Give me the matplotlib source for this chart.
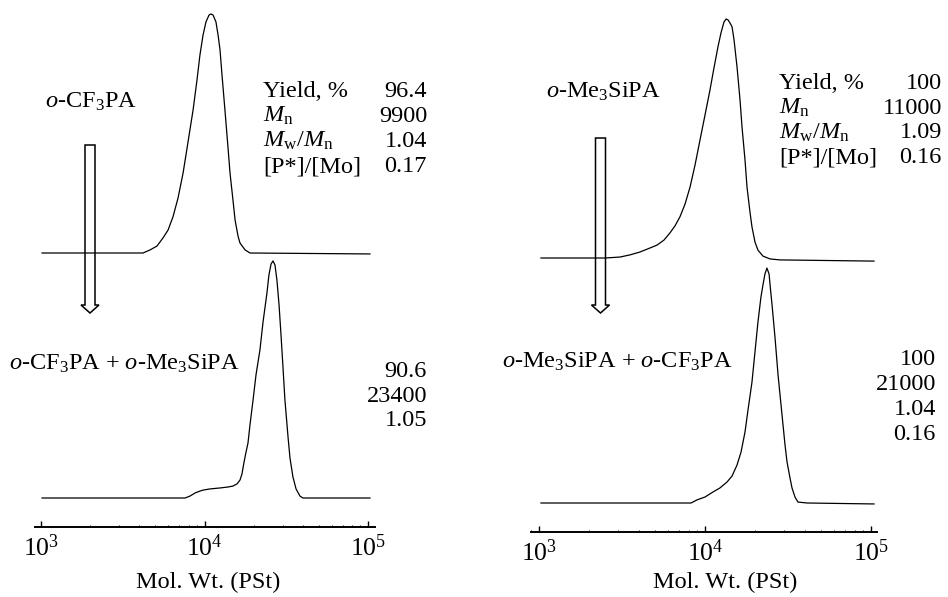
import numpy as np
import matplotlib
matplotlib.use('Agg')
import matplotlib.pyplot as plt
from matplotlib.patches import Polygon
from matplotlib.ticker import LogLocator, NullFormatter

plt.rcParams.update({
    'font.family': 'Liberation Serif',
    'mathtext.fontset': 'custom',
    'mathtext.rm': 'Liberation Serif',
    'mathtext.it': 'Liberation Serif:italic',
    'mathtext.bf': 'Liberation Serif:bold',
    'font.size': 17.5,
})

# GPC traces: log10(MW, PSt) vs normalised RI response
cf3_logm = [3.006, 3.624, 3.667, 3.709, 3.746, 3.777, 3.807, 3.838, 3.869, 3.899,
            3.930, 3.954, 3.972, 3.991, 4.009, 4.028, 4.040, 4.052, 4.070, 4.083,
            4.095, 4.107, 4.125, 4.144, 4.156, 4.174, 4.187, 4.205, 4.217, 4.248,
            4.278, 5.012]
cf3_int = [0, 0, 0.013, 0.029, 0.063, 0.096, 0.151, 0.230, 0.335, 0.464,
           0.598, 0.724, 0.828, 0.912, 0.967, 0.996, 1.0, 0.996, 0.967, 0.912,
           0.849, 0.745, 0.598, 0.439, 0.335, 0.222, 0.138, 0.071, 0.042, 0.013,
           0, -0.004]

cf3_si_logm = [3.006, 3.881, 3.911, 3.942, 3.972, 3.991, 4.034, 4.095, 4.144, 4.174,
               4.199, 4.217, 4.229, 4.242, 4.254, 4.266, 4.278, 4.297, 4.315, 4.339,
               4.358, 4.382, 4.394, 4.407, 4.419, 4.431, 4.443, 4.456, 4.468, 4.480,
               4.492, 4.511, 4.523, 4.541, 4.560, 4.584, 4.602, 5.012]
cf3_si_int = [0, 0, 0.008, 0.021, 0.029, 0.033, 0.038, 0.042, 0.046, 0.050,
              0.059, 0.075, 0.100, 0.151, 0.192, 0.230, 0.305, 0.410, 0.515, 0.619,
              0.736, 0.858, 0.933, 0.979, 0.992, 0.975, 0.912, 0.808, 0.682, 0.548,
              0.410, 0.255, 0.167, 0.088, 0.038, 0.008, 0, 0]

si_logm = [3.012, 3.398, 3.488, 3.548, 3.608, 3.669, 3.711, 3.753, 3.789, 3.819,
           3.849, 3.880, 3.910, 3.940, 3.970, 4.000, 4.030, 4.054, 4.078, 4.096,
           4.114, 4.127, 4.139, 4.151, 4.163, 4.175, 4.193, 4.211, 4.223, 4.241,
           4.253, 4.271, 4.283, 4.301, 4.319, 4.349, 4.392, 4.452, 5.018]
si_int = [0, 0, 0.004, 0.013, 0.025, 0.042, 0.054, 0.075, 0.105, 0.134,
          0.172, 0.226, 0.297, 0.389, 0.494, 0.598, 0.703, 0.795, 0.883, 0.941,
          0.987, 1.0, 0.996, 0.983, 0.967, 0.912, 0.799, 0.661, 0.548, 0.410,
          0.297, 0.192, 0.130, 0.067, 0.033, 0.008, -0.004, -0.008, -0.013]

si_cf3_logm = [3.012, 3.916, 3.952, 4.000, 4.048, 4.090, 4.133, 4.163, 4.193, 4.217,
               4.241, 4.259, 4.283, 4.301, 4.319, 4.337, 4.349, 4.361, 4.373, 4.386,
               4.392, 4.404, 4.422, 4.440, 4.464, 4.482, 4.494, 4.512, 4.524, 4.542,
               4.560, 4.614, 5.018]
si_cf3_int = [0, 0, 0.013, 0.025, 0.046, 0.063, 0.088, 0.113, 0.159, 0.213,
              0.297, 0.389, 0.506, 0.632, 0.757, 0.862, 0.912, 0.958, 0.983, 0.958,
              0.912, 0.828, 0.690, 0.536, 0.368, 0.243, 0.172, 0.105, 0.063, 0.025,
              0.004, 0, -0.004]

stat_labels = ['Yield, %', '$M_\\mathrm{n}$', '$M_\\mathrm{w}/M_\\mathrm{n}$', '[P*]/[Mo]']
left_top_vals = ['96.4', '9900', '1.04', '0.17']
left_bot_vals = ['90.6', '23400', '1.05']
right_top_vals = ['100', '11000', '1.09', '0.16']
right_bot_vals = ['100', '21000', '1.04', '0.16']

W, H = 948, 597
fig = plt.figure(figsize=(W / 100, H / 100), dpi=100)


def fx(x):
    return x / W


def fy(y):
    return 1 - y / H


def make_axes(x0, x1, yaxis, lo, hi):
    ax = fig.add_axes([fx(x0), fy(yaxis), (x1 - x0) / W, yaxis / H])
    ax.set_xscale('log')
    ax.set_xlim(10 ** lo, 10 ** hi)
    ax.set_ylim(0, yaxis / 239)
    for s in ['top', 'left', 'right']:
        ax.spines[s].set_visible(False)
    ax.spines['bottom'].set_linewidth(1.4)
    ax.set_yticks([])
    ax.xaxis.set_major_locator(LogLocator(base=10, numticks=5))
    ax.xaxis.set_minor_locator(LogLocator(base=10, subs=np.arange(2, 10), numticks=10))
    ax.xaxis.set_minor_formatter(NullFormatter())
    ax.tick_params(axis='x', which='major', direction='in', length=4, width=1,
                   labelsize=18.5, pad=5)
    ax.tick_params(axis='x', which='minor', direction='in', length=1.5, width=0.7)
    ax.patch.set_alpha(0)
    return ax


def arrow(xc, ytop, ytip):
    hw, hh, hl = 5, 9, 8
    pts = [(xc - hw, ytop), (xc + hw, ytop), (xc + hw, ytip - hl), (xc + hh, ytip - hl),
           (xc, ytip), (xc - hh, ytip - hl), (xc - hw, ytip - hl)]
    pts = [(x / 100, (H - y) / 100) for x, y in pts]
    fig.patches.append(Polygon(pts, closed=True, fill=False, ec='black', lw=1.1,
                               transform=fig.dpi_scale_trans))


top_off = 274 / 239
bot_off = 29 / 239
line_kw = dict(color='black', lw=0.9, solid_joinstyle='round')

# left panel
axl = make_axes(35, 375, 527, 2.963, 5.043)
axl.plot(10 ** np.array(cf3_logm), np.array(cf3_int) + top_off, **line_kw)
axl.plot(10 ** np.array(cf3_si_logm), np.array(cf3_si_int) + bot_off, **line_kw)

# right panel
axr = make_axes(531, 877, 532, 2.952, 5.036)
axr.plot(10 ** np.array(si_logm), np.array(si_int) + top_off, **line_kw)
axr.plot(10 ** np.array(si_cf3_logm), np.array(si_cf3_int) + bot_off, **line_kw)

arrow(90, 145, 313)
arrow(600.5, 138, 313)

# labels
fig.text(fx(45), fy(108), '$\\it{o}$-CF$_3$PA', va='baseline')
fig.text(fx(9), fy(370), '$\\it{o}$-CF$_3$PA + $\\it{o}$-Me$_3$SiPA', va='baseline')
fig.text(fx(546), fy(98), '$\\it{o}$-Me$_3$SiPA', va='baseline')
fig.text(fx(502), fy(368), '$\\it{o}$-Me$_3$SiPA + $\\it{o}$-CF$_3$PA', va='baseline')

for i, lab in enumerate(stat_labels):
    fig.text(fx(263), fy(97 + 25 * i), lab, va='baseline')
    fig.text(fx(427), fy(97 + 25 * i), left_top_vals[i], va='baseline', ha='right')
    fig.text(fx(779), fy(89 + 24.7 * i), lab, va='baseline')
    fig.text(fx(942), fy(89 + 24.7 * i), right_top_vals[i], va='baseline', ha='right')

for i, v in enumerate(left_bot_vals):
    fig.text(fx(427), fy(377 + 24.5 * i), v, va='baseline', ha='right')
for i, v in enumerate(right_bot_vals):
    fig.text(fx(936), fy(365 + 25 * i), v, va='baseline', ha='right')

fig.text(fx(208), fy(588), 'Mol. Wt. (PSt)', va='baseline', ha='center')
fig.text(fx(725), fy(588), 'Mol. Wt. (PSt)', va='baseline', ha='center')

fig.savefig('out.png', dpi=100)
